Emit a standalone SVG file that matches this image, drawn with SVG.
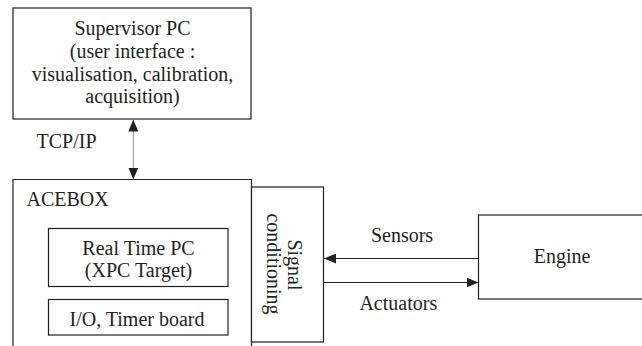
<svg xmlns="http://www.w3.org/2000/svg" width="642" height="346" viewBox="0 0 642 346">
<style>
.box{fill:#fff;stroke:#231f20;stroke-width:1.2}
.t{font-family:"Liberation Serif","Times New Roman",serif;font-size:20px;fill:#231f20}
.c{text-anchor:middle}
.ln{stroke:#231f20;stroke-width:1.2;fill:none}
</style>
<defs>
<marker id="ah" viewBox="0 0 12 10" refX="12" refY="5" markerWidth="12" markerHeight="10" markerUnits="userSpaceOnUse" orient="auto-start-reverse">
<path d="M0,0 L12,5 L0,10 Z" fill="#231f20"/>
</marker>
</defs>
<rect width="642" height="346" fill="#fff"/>
<g id="supervisor">
<rect class="box" x="13" y="8" width="238" height="111"/>
<text class="t c" x="132.5" y="35">Supervisor PC</text>
<text class="t c" x="132.5" y="57.7">(user interface :</text>
<text class="t c" x="132.5" y="80.5">visualisation, calibration,</text>
<text class="t c" x="132.5" y="103">acquisition)</text>
</g>
<g id="acebox">
<path class="ln" d="M13,347 V179.5 H251.5 V347"/>
<text class="t" x="26.5" y="206">ACEBOX</text>
</g>
<g id="realtime">
<rect class="box" x="48.5" y="228.5" width="179.5" height="58"/>
<text class="t c" x="138.5" y="255">Real Time PC</text>
<text class="t c" x="138.5" y="276.5">(XPC Target)</text>
</g>
<g id="io">
<rect class="box" x="48.5" y="299.5" width="179.5" height="35.5"/>
<text class="t c" x="137" y="326">I/O, Timer board</text>
</g>
<g id="signal">
<rect class="box" x="251.5" y="187" width="72" height="155"/>
<text class="t c" transform="translate(288,265) rotate(90)">Signal</text>
<text class="t c" transform="translate(267,264) rotate(90)">conditioning</text>
</g>
<g id="engine">
<rect class="box" x="478.5" y="215" width="170" height="84"/>
<text class="t c" x="562" y="262.5">Engine</text>
</g>
<g id="connectors">
<line x1="133.3" y1="119.5" x2="133.3" y2="179.5" stroke="#777" stroke-width="0.8" marker-start="url(#ah)" marker-end="url(#ah)"/>
<line class="ln" x1="478.5" y1="258.5" x2="324" y2="258.5" marker-end="url(#ah)"/>
<line class="ln" x1="324" y1="282.5" x2="478.5" y2="282.5" marker-end="url(#ah)"/>
<text class="t" x="36.5" y="148.3">TCP/IP</text>
<text class="t c" x="402" y="241.7">Sensors</text>
<text class="t c" x="398.3" y="310">Actuators</text>
</g>
</svg>
